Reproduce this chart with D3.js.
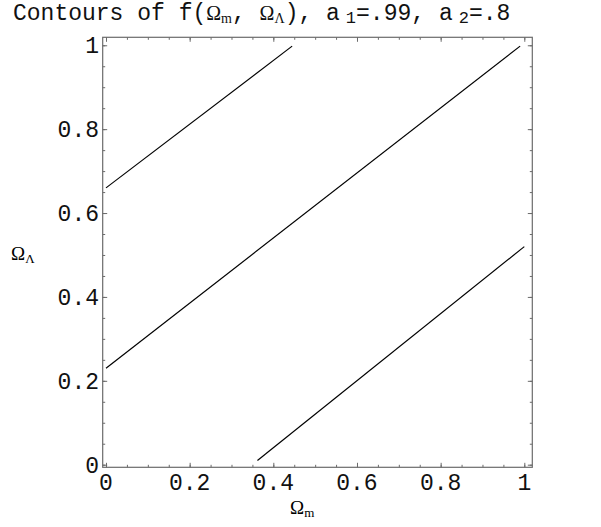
<!DOCTYPE html>
<html>
<head>
<meta charset="utf-8">
<script src="https://cdn.jsdelivr.net/npm/d3@7"></script>
<style>
  body { margin: 0; background: #fff; }
  .mono { font-family: "Liberation Mono", "Courier New", monospace; }
  .serif { font-family: "Liberation Serif", "Times New Roman", serif; }
</style>
</head>
<body>
<div id="plot"></div>
<script>
  // contour lines: [Omega_m, Omega_Lambda] pairs
  var contourTop = [[0.0, 0.66], [0.445, 0.998]];
  var contourMid = [[0.0, 0.23], [0.99, 0.998]];
  var contourLow = [[0.362, 0.01], [1.0, 0.52]];
  var contours = [contourTop, contourMid, contourLow];

  var majorTicks = [0, 0.2, 0.4, 0.6, 0.8, 1];
  var tickLabels = ["0", "0.2", "0.4", "0.6", "0.8", "1"];
  var minorTicks = d3.range(0, 1.0001, 0.05);

  var width = 601, height = 527;

  var svg = d3.select("#plot")
      .append("svg")
      .attr("width", width)
      .attr("height", height);

  var x = d3.scaleLinear().domain([-0.0079, 1.0191]).range([102.7, 532.3]),
      y = d3.scaleLinear().domain([-0.0062, 1.019]).range([467.3, 37.3]);

  var frameColor = "#6b6b6b";

  // ticks on all four sides, pointing inward
  function sideAxes() {
    return [
      [d3.axisBottom(x), "translate(0," + y.range()[0] + ")"],
      [d3.axisTop(x), "translate(0," + y.range()[1] + ")"],
      [d3.axisLeft(y), "translate(" + x.range()[0] + ",0)"],
      [d3.axisRight(y), "translate(" + x.range()[1] + ",0)"]
    ];
  }
  function drawTicks(vals, size) {
    sideAxes().forEach(function(s) {
      var g = svg.append("g").attr("transform", s[1])
        .call(s[0].tickValues(vals).tickSize(size).tickFormat(""));
      g.select(".domain").remove();
      g.selectAll("line").attr("stroke", frameColor);
    });
  }
  drawTicks(minorTicks, -2.5);
  drawTicks(majorTicks, -4.5);

  svg.append("rect")
    .attr("x", x.range()[0])
    .attr("y", y.range()[1])
    .attr("width", x.range()[1] - x.range()[0])
    .attr("height", y.range()[0] - y.range()[1])
    .attr("fill", "none")
    .attr("stroke", frameColor)
    .attr("stroke-width", 1.2);

  // tick labels
  svg.selectAll(".xlab")
    .data(majorTicks)
    .enter().append("text")
      .attr("class", "mono")
      .attr("x", function(d) { return x(d); })
      .attr("y", 490)
      .attr("text-anchor", "middle")
      .style("font-size", "23px")
      .attr("fill", "#111")
      .text(function(d, i) { return tickLabels[i]; });

  svg.selectAll(".ylab")
    .data(majorTicks)
    .enter().append("text")
      .attr("class", "mono")
      .attr("x", 99)
      .attr("y", function(d) { return y(d) + 8; })
      .attr("text-anchor", "end")
      .style("font-size", "23px")
      .attr("fill", "#111")
      .text(function(d, i) { return tickLabels[i]; });

  // contour lines
  var line = d3.line()
    .x(function(d) { return x(d[0]); })
    .y(function(d) { return y(d[1]); });

  svg.selectAll(".contour")
    .data(contours)
    .enter().append("path")
      .attr("d", line)
      .attr("fill", "none")
      .attr("stroke", "#000")
      .attr("stroke-width", 1.2);

  // axis labels
  var xl = svg.append("text").attr("class", "serif")
    .attr("x", 290).attr("y", 514).style("font-size", "19px");
  xl.append("tspan").text("Ω");
  xl.append("tspan").attr("dy", 3).style("font-size", "13px").text("m");

  var yl = svg.append("text").attr("class", "serif")
    .attr("x", 11).attr("y", 260).style("font-size", "19px");
  yl.append("tspan").text("Ω");
  yl.append("tspan").attr("dy", 3).style("font-size", "13px").text("Λ");

  // title
  var t = svg.append("text").attr("class", "mono")
    .attr("x", 13).attr("y", 20).attr("fill", "#111").style("font-size", "23px");
  t.append("tspan").text("Contours of f(");
  t.append("tspan").attr("class", "serif").style("font-size", "20px").text("Ω");
  t.append("tspan").attr("class", "serif").attr("dy", 3).style("font-size", "14px").text("m");
  t.append("tspan").attr("dy", -3).text(", ");
  t.append("tspan").attr("class", "serif").style("font-size", "20px").text("Ω");
  t.append("tspan").attr("class", "serif").attr("dy", 3).style("font-size", "14px").text("Λ");
  t.append("tspan").attr("dy", -3).text("), a");
  t.append("tspan").attr("dy", 3).attr("dx", 6).style("font-size", "17px").text("1");
  t.append("tspan").attr("dy", -3).text("=.99, a");
  t.append("tspan").attr("dy", 3).attr("dx", 6).style("font-size", "17px").text("2");
  t.append("tspan").attr("dy", -3).text("=.8");
</script>
</body>
</html>
